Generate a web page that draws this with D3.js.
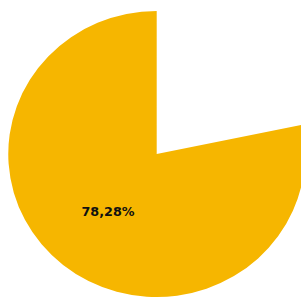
<!DOCTYPE html>
<html>
<head>
<meta charset="utf-8">
<script src="https://cdn.jsdelivr.net/npm/d3@7"></script>
<style>
html,body{margin:0;padding:0;background:#fff;}
svg{display:block;}
</style>
</head>
<body>
<svg id="chart" width="301" height="300"></svg>
<script>
const categories = ["Resto", "Principal"];
const values = [21.72, 78.28];
const colors = ["#ffffff", "#F6B600"];
const showLabel = [false, true];

const W = 301, H = 300;
const cx = 156.7, cy = 154, r = 143, sx = 1.038;

const svg = d3.select("#chart");
const g = svg.append("g").attr("transform", `translate(${cx},${cy}) scale(${sx},1)`);

const pie = d3.pie().sort(null).value(d => d.v);
const data = pie(categories.map((c, i) => ({c, v: values[i], i})));
const arc = d3.arc().innerRadius(0).outerRadius(r);
const labelArc = d3.arc().innerRadius(r * 0.52).outerRadius(r * 0.52);

g.selectAll("path").data(data).join("path")
  .attr("d", arc)
  .attr("fill", d => colors[d.data.i]);

const loc = d3.formatLocale({decimal: ",", thousands: ".", grouping: [3], currency: ["", "€"]});
const fmt = loc.format(".2f");

g.selectAll("text").data(data.filter(d => showLabel[d.data.i])).join("text")
  .attr("transform", d => `translate(${labelArc.centroid(d)})`)
  .attr("text-anchor", "middle")
  .attr("dy", "0.35em")
  .attr("font-family", "DejaVu Sans")
  .attr("font-weight", "bold")
  .attr("font-size", "12.3px")
  .attr("fill", "#111")
  .text(d => fmt(d.data.v) + "%");
</script>
</body>
</html>
